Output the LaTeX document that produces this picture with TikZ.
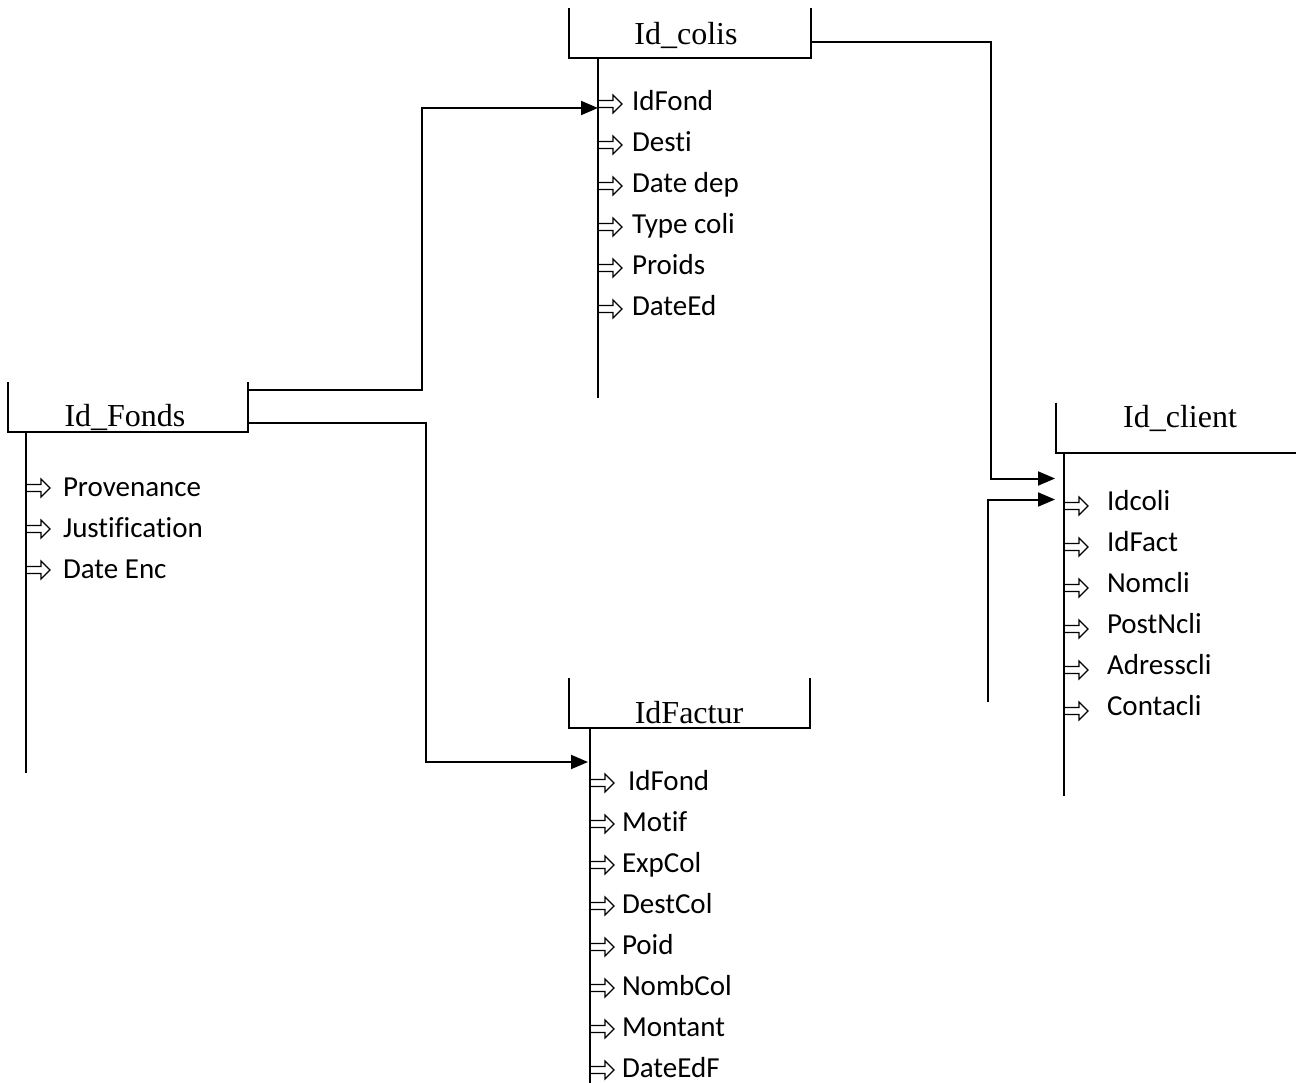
\documentclass[tikz,border=0pt]{standalone}
\usepackage{fontspec}
\setmainfont{Liberation Serif}
\newfontfamily\itemfont[Ligatures=NoCommon]{Carlito}
\usetikzlibrary{calc,arrows.meta}

\begin{document}
\begin{tikzpicture}[x=1pt,y=-1pt,
  line width=2pt,
  hdr/.style={draw=none,minimum width=#1,minimum height=50pt,inner sep=0pt,outer sep=0pt},
  ttl/.style={anchor=base,inner sep=0pt,font=\fontsize{32}{32}\selectfont},
  attr/.style={anchor=base west,inner sep=0pt,font=\itemfont\fontsize{29}{29}\selectfont},
  link/.style={-{Triangle[length=17pt,width=14pt]}},
  pics/bullet/.style={code={
    \draw[line width=1.2pt,line join=miter]
      (0,-3.5) -- (14,-3.5) -- (14,-9) -- (23,0) -- (14,9) -- (14,3.5) -- (0,3.5);}}]

\useasboundingbox (0,0) rectangle (1296,1083);

% ---- entity headers ----
\node[hdr=242] (colis)  at (690,33)    {};
\node[hdr=240] (fonds)  at (128,407)   {};
\node[hdr=241] (factur) at (689.5,703) {};
\node[hdr=240] (client) at (1176,427.5) {};

\draw (colis.north west)  |- (colis.south east)  -- (colis.north east);
\draw (fonds.north west)  |- (fonds.south east)  -- (fonds.north east);
\draw (factur.north west) |- (factur.south east) -- (factur.north east);
\draw (client.north west) |- (client.south east);

\node[ttl] (colisT)  at (686,45)  {Id\_colis};
\node[ttl] (fondsT)  at (125,426) {Id\_Fonds};
\node[ttl] (facturT) at (689,723) {IdFactur};
\node[ttl] (clientT) at (1180,427) {Id\_client};

% ---- attribute stems ----
\draw ($(colis.south west)+(29,0)$)  -- ++(0,340);
\draw ($(fonds.south west)+(18,0)$)  -- ++(0,341);
\draw ($(factur.south west)+(21,0)$) -- ++(0,355);
\draw ($(client.south west)+(8,0)$)  -- ++(0,343);

% ---- attributes ----
\foreach \t [count=\i from 0] in {IdFond,Desti,Date dep,Type coli,Proids,DateEd} {
  \pic at (599,{104+41*\i}) {bullet};
  \node[attr] (colisA\i) at (631,{111+41*\i}) {\t};
}
\foreach \t [count=\i from 0] in {Provenance,Justification,Date Enc} {
  \pic at (27,{488+41*\i}) {bullet};
  \node[attr] (fondsA\i) at (62,{496+41*\i}) {\t};
}
\pic at (591,783) {bullet};
\node[attr] (facturA0) at (627,790) {IdFond};
\foreach \t [count=\i from 1] in {Motif,ExpCol,DestCol,Poid,NombCol,Montant,DateEdF} {
  \pic at (591,{783+41*\i}) {bullet};
  \node[attr] (facturA\i) at (621,{790+41*\i}) {\t};
}
\foreach \t [count=\i from 0] in {Idcoli,IdFact,Nomcli,PostNcli,Adresscli,Contacli} {
  \pic at (1065,{506+41*\i}) {bullet};
  \node[attr] (clientA\i) at (1106,{510+41*\i}) {\t};
}

% ---- links ----
\draw[link] ($(fonds.north east)+(0,8)$) -- ++(174,0) |- ($(colisA0.base west)+(-33,-3)$);
\draw[link] ($(fonds.north east)+(0,41)$) -- ++(178,0) |- ($(facturA0.base west)+(-39,-28)$);
\draw[link] ($(colis.north east)+(0,34)$) -- ++(180,0) |- ($(client.south west)+(-1,26)$);
\coordinate (loose) at (988,702);
\draw[link] (loose) |- ($(client.south west)+(-1,47)$);
\end{tikzpicture}
\end{document}
